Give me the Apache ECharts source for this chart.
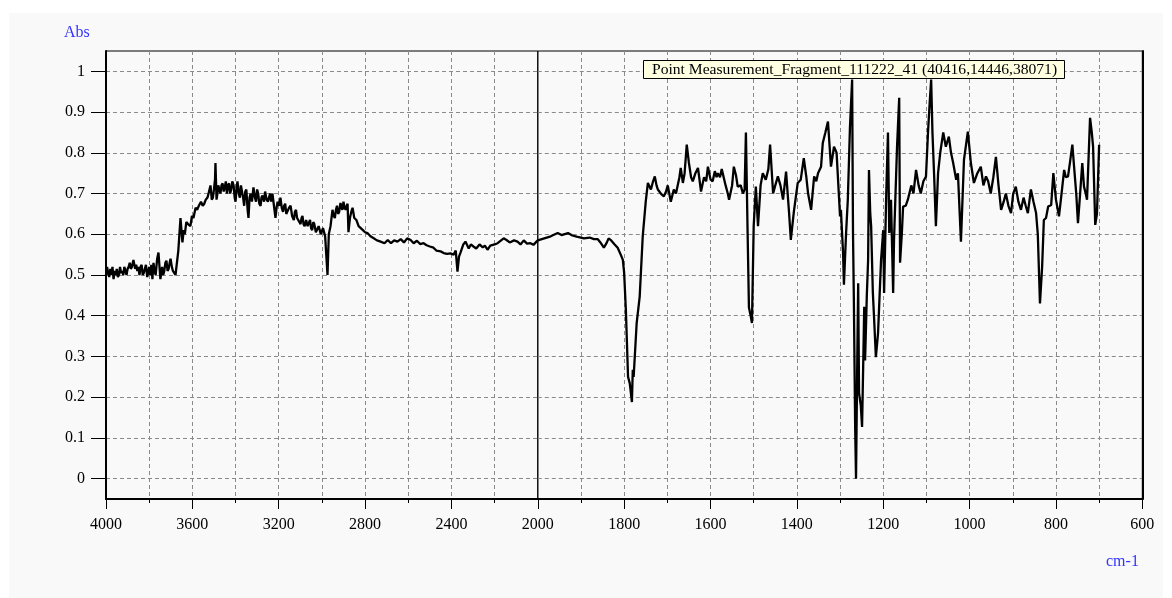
<!DOCTYPE html>
<html>
<head>
<meta charset="utf-8">
<script src="https://cdn.jsdelivr.net/npm/echarts@6/dist/echarts.min.js"></script>
<style>
html,body{margin:0;padding:0;background:#fff;width:1172px;height:598px;overflow:hidden;}
#chart{position:absolute;left:9px;top:13px;width:1154px;height:585px;}
</style>
</head>
<body>
<div id="chart"></div>
<script>
// Wavenumbers (cm-1) and absorbance
const wavenumbers = [
4000,3995,3990,3985,3980,3975,3970,3965,3960,3955,3950,3945,3940,3935,3930,3925,3920,3915,3910,3905,3900,3895,3890,3885,3880,3873,3865,3860,3855,3850,3845,3840,3835,3830,3825,3820,3815,3809,3800,3795,3790,3785,3780,3775,3770,3763,3757,3748,3740,3735,3730,3725,3720,3715,3710,3705,3701,3695,3690,3684,3678,3665,3655,3646,3640,3635,3628,3620,3609,3602,3595,3585,3578,3570,3560,3552,3545,3538,3530,3525,3520,3516,3510,3505,3500,3495,3493,3488,3484,3480,3475,3470,3465,3460,3455,3450,3445,3440,3435,3430,3425,3420,3415,3409,3404,3400,3395,3391,3385,3380,3375,3370,3365,3360,3355,3350,3344,3340,3335,3330,3324,3317,3310,3305,3300,3295,3290,3284,3280,3275,3268,3263,3256,3250,3245,3240,3235,3229,3222,3215,3210,3205,3198,3192,3186,3180,3175,3170,3165,3159,3152,3145,3138,3130,3125,3120,3115,3110,3104,3099,3094,3090,3085,3080,3073,3066,3060,3055,3050,3045,3040,3035,3028,3020,3015,3010,3005,3000,2995,2990,2985,2980,2974,2968,2960,2951,2945,2940,2935,2930,2925,2920,2914,2909,2905,2900,2895,2890,2885,2881,2877,2870,2864,2858,2850,2840,2830,2821,2810,2800,2789,2775,2760,2745,2728,2710,2695,2680,2665,2650,2635,2620,2605,2589,2575,2560,2545,2529,2515,2500,2483,2470,2450,2436,2420,2405,2390,2380,2372,2365,2358,2345,2335,2320,2310,2298,2285,2270,2255,2245,2233,2220,2200,2186,2170,2158,2145,2130,2110,2094,2080,2065,2050,2034,2020,2006,2000,
1985,1970,1954,1945,1930,1920,1910,1893,1880,1870,1861,1855,1847,1840,1836,1830,1822,1815,1808,1803,1800,1796,1791,1787,1782,1780,1778,1771,1764,1757,1750,1745,1738,1733,1729,1725,1722,1715,1708,1703,1699,1692,1685,1680,1676,1672,1669,1664,1660,1655,1650,1645,1641,1635,1629,1622,1618,1615,1610,1606,1600,1595,1590,1586,1583,1578,1574,1571,1565,1560,1557,1550,1546,1541,1537,1530,1525,1521,1518,1514,1511,1507,1504,1500,1495,1490,1484,1479,1472,1466,1462,1455,1450,1444,1438,1432,1425,1418,1414,1407,1398,1391,1384,1378,1374,1367,1360,1355,1351,1344,1340,1334,1328,1321,1314,1308,1305,1300,1298,1293,1291,1286,1282,1277,1272,1270,1268,1265,1263,1260,1258,1256,1252,1249,1246,1244,1242,1238,1235,1233,1230,1228,1224,1221,1217,1212,1205,1200,1198,1193,1189,1186,1182,1177,1175,1168,1163,1161,1157,1154,1148,1143,1135,1130,1124,1118,1113,1107,1101,1096,1092,1089,1086,1082,1078,1073,1068,1061,1055,1048,1043,1038,1031,1027,1020,1013,1004,997,990,982,974,968,962,957,951,945,939,933,927,921,916,910,904,899,893,887,881,875,870,865,858,852,846,842,837,832,828,823,818,811,806,800,793,787,781,777,772,767,762,758,753,749,744,739,735,731,728,724,721,717,714,711,709,705,702,700
];
const absorbance = [
0.50,0.52,0.505,0.495,0.515,0.50,0.52,0.49,0.51,0.50,0.515,0.495,0.50,0.52,0.505,0.51,0.50,0.52,0.51,0.50,0.515,0.52,0.53,0.515,0.52,0.537,0.515,0.525,0.51,0.52,0.50,0.52,0.525,0.50,0.505,0.515,0.525,0.495,0.52,0.50,0.525,0.49,0.53,0.51,0.50,0.54,0.555,0.49,0.52,0.50,0.51,0.53,0.535,0.51,0.515,0.53,0.54,0.52,0.51,0.505,0.50,0.56,0.64,0.58,0.61,0.60,0.63,0.625,0.62,0.645,0.64,0.665,0.66,0.67,0.68,0.67,0.675,0.685,0.69,0.70,0.70,0.72,0.685,0.69,0.71,0.735,0.775,0.685,0.70,0.72,0.71,0.70,0.72,0.725,0.705,0.715,0.73,0.70,0.72,0.725,0.70,0.71,0.73,0.72,0.69,0.68,0.715,0.73,0.70,0.69,0.72,0.72,0.69,0.67,0.705,0.71,0.66,0.64,0.69,0.70,0.68,0.715,0.69,0.68,0.71,0.70,0.675,0.67,0.69,0.695,0.68,0.705,0.685,0.68,0.69,0.70,0.68,0.70,0.67,0.64,0.665,0.68,0.67,0.69,0.665,0.655,0.67,0.675,0.65,0.65,0.665,0.67,0.645,0.635,0.655,0.66,0.64,0.64,0.63,0.625,0.64,0.645,0.625,0.62,0.635,0.62,0.62,0.635,0.615,0.61,0.63,0.625,0.605,0.605,0.62,0.62,0.60,0.60,0.615,0.615,0.595,0.595,0.50,0.60,0.62,0.66,0.645,0.64,0.66,0.67,0.65,0.655,0.677,0.665,0.66,0.68,0.665,0.66,0.67,0.675,0.605,0.64,0.655,0.665,0.64,0.635,0.62,0.623,0.61,0.605,0.603,0.595,0.59,0.585,0.582,0.578,0.586,0.578,0.585,0.582,0.588,0.58,0.59,0.586,0.578,0.584,0.576,0.578,0.573,0.57,0.567,0.56,0.558,0.554,0.552,0.553,0.55,0.56,0.508,0.545,0.555,0.575,0.582,0.565,0.575,0.57,0.565,0.575,0.568,0.572,0.562,0.572,0.575,0.578,0.585,0.59,0.586,0.58,0.585,0.582,0.575,0.585,0.577,0.578,0.574,0.582,0.585,
0.59,0.595,0.603,0.598,0.603,0.597,0.594,0.59,0.592,0.588,0.588,0.58,0.567,0.58,0.59,0.585,0.575,0.567,0.55,0.537,0.505,0.414,0.25,0.234,0.188,0.267,0.25,0.382,0.447,0.594,0.68,0.726,0.71,0.73,0.742,0.72,0.71,0.70,0.693,0.705,0.72,0.68,0.71,0.70,0.72,0.74,0.763,0.726,0.75,0.82,0.775,0.74,0.73,0.75,0.763,0.705,0.725,0.74,0.73,0.766,0.735,0.73,0.755,0.74,0.75,0.74,0.76,0.763,0.72,0.70,0.685,0.72,0.766,0.745,0.717,0.72,0.70,0.71,0.85,0.60,0.42,0.40,0.382,0.62,0.717,0.62,0.72,0.75,0.734,0.76,0.82,0.70,0.72,0.742,0.72,0.685,0.754,0.652,0.586,0.655,0.726,0.734,0.787,0.74,0.70,0.66,0.742,0.73,0.75,0.766,0.824,0.85,0.877,0.766,0.815,0.80,0.80,0.644,0.66,0.554,0.476,0.603,0.685,0.864,0.98,0.603,0.439,0.127,0.0,0.30,0.48,0.21,0.18,0.127,0.30,0.422,0.29,0.45,0.537,0.758,0.65,0.62,0.456,0.39,0.298,0.357,0.537,0.61,0.456,0.70,0.85,0.603,0.685,0.456,0.586,0.815,0.935,0.53,0.60,0.668,0.67,0.685,0.72,0.70,0.758,0.72,0.70,0.73,0.742,0.856,0.93,0.98,0.85,0.742,0.62,0.75,0.80,0.85,0.815,0.84,0.80,0.775,0.734,0.75,0.582,0.783,0.852,0.775,0.726,0.75,0.766,0.72,0.742,0.73,0.70,0.74,0.79,0.72,0.66,0.68,0.70,0.67,0.652,0.70,0.717,0.68,0.66,0.69,0.67,0.652,0.71,0.68,0.652,0.60,0.43,0.52,0.635,0.64,0.668,0.672,0.75,0.685,0.644,0.70,0.758,0.74,0.742,0.78,0.82,0.766,0.70,0.627,0.70,0.775,0.717,0.70,0.685,0.80,0.886,0.85,0.815,0.70,0.623,0.65,0.652,0.82
];
const yTickValues = [0,0.1,0.2,0.3,0.4,0.5,0.6,0.7,0.8,0.9,1];
const xBreak = 2000;
const legendText = 'Point Measurement_Fragment_111222_41 (40416,14446,38071)';
const yName = 'Abs';
const xName = 'cm-1';

const pairs = wavenumbers.map((w, i) => [w, absorbance[i]]);
const highPart = pairs.filter(p => p[0] >= xBreak);
const lowPart = pairs.filter(p => p[0] <= xBreak);

const FONT = '"Liberation Serif", "Times New Roman", serif';
const gridDash = {color: '#8a8a8a', width: 1, type: [4, 3]};
const labelStyle = {color: '#000', fontFamily: FONT, fontSize: 16};

const chart = echarts.init(document.getElementById('chart'), null, {renderer: 'canvas'});
const gTop = 38, gH = 448, gLeft = 97, gW = 1036.3;
const leftW = gW * 5 / 12;

const yCommon = {
  type: 'value', min: -0.05, max: 1.05,
  splitLine: {show: true, lineStyle: gridDash}
};

chart.setOption({
  backgroundColor: '#f9f9f9',
  animation: false,
  title: {
    text: legendText,
    left: 634, top: 47,
    padding: [1, 8, 1, 9],
    backgroundColor: '#ffffe1',
    borderColor: '#000', borderWidth: 1,
    textStyle: {fontFamily: FONT, fontSize: 15.6, fontWeight: 'normal', color: '#000', lineHeight: 17}
  },
  graphic: [
    {type: 'text', left: 55, top: 12, style: {text: yName, fill: '#3333ff', font: '16px ' + FONT}},
    {type: 'text', left: 1097, top: 541, style: {text: xName, fill: '#3333ff', font: '16px ' + FONT}}
  ],
  grid: [
    {left: gLeft, top: gTop, width: leftW, height: gH, show: true, borderColor: '#000', borderWidth: 1, backgroundColor: 'transparent'},
    {left: gLeft + leftW, top: gTop, width: gW - leftW, height: gH, show: true, borderColor: '#000', borderWidth: 1, backgroundColor: 'transparent'}
  ],
  xAxis: [
    {
      gridIndex: 0, type: 'value', min: 2000, max: 4000, interval: 400, inverse: true,
      axisLine: {show: true, onZero: false, lineStyle: {color: '#000', width: 2}},
      axisTick: {show: true, length: 10, lineStyle: {color: '#000', width: 1}},
      minorTick: {show: true, splitNumber: 2, length: 4, lineStyle: {color: '#000', width: 1}},
      axisLabel: {margin: 18, showMinLabel: false, ...labelStyle, formatter: v => String(v)},
      splitLine: {show: true, showMinLine: false, lineStyle: gridDash},
      minorSplitLine: {show: true, lineStyle: gridDash}
    },
    {
      gridIndex: 1, type: 'value', min: 600, max: 2000, interval: 200, inverse: true,
      axisLine: {show: true, onZero: false, lineStyle: {color: '#000', width: 2}},
      axisTick: {show: true, length: 10, lineStyle: {color: '#000', width: 1}},
      minorTick: {show: true, splitNumber: 2, length: 4, lineStyle: {color: '#000', width: 1}},
      axisLabel: {margin: 18, ...labelStyle, formatter: v => String(v)},
      splitLine: {show: true, showMaxLine: false, lineStyle: gridDash},
      minorSplitLine: {show: true, lineStyle: gridDash}
    }
  ],
  yAxis: [
    Object.assign({}, yCommon, {
      gridIndex: 0, position: 'left',
      axisLine: {show: true, onZero: false, lineStyle: {color: '#000', width: 2}},
      axisTick: {show: true, length: 15, customValues: yTickValues, lineStyle: {color: '#000', width: 1}},
      axisLabel: {margin: 21, customValues: yTickValues, ...labelStyle,
        formatter: v => String(Math.round(v * 10) / 10)}
    }),
    Object.assign({}, yCommon, {
      gridIndex: 1, position: 'right',
      axisLine: {show: true, onZero: false, lineStyle: {color: '#000', width: 2}},
      axisTick: {show: false, customValues: yTickValues},
      axisLabel: {show: false, customValues: yTickValues}
    })
  ],
  series: [
    {type: 'line', xAxisIndex: 0, yAxisIndex: 0, data: highPart, showSymbol: false,
      lineStyle: {color: '#000', width: 2.3}, silent: true},
    {type: 'line', xAxisIndex: 1, yAxisIndex: 1, data: lowPart, showSymbol: false,
      lineStyle: {color: '#000', width: 2.3}, silent: true}
  ]
});
</script>
</body>
</html>
